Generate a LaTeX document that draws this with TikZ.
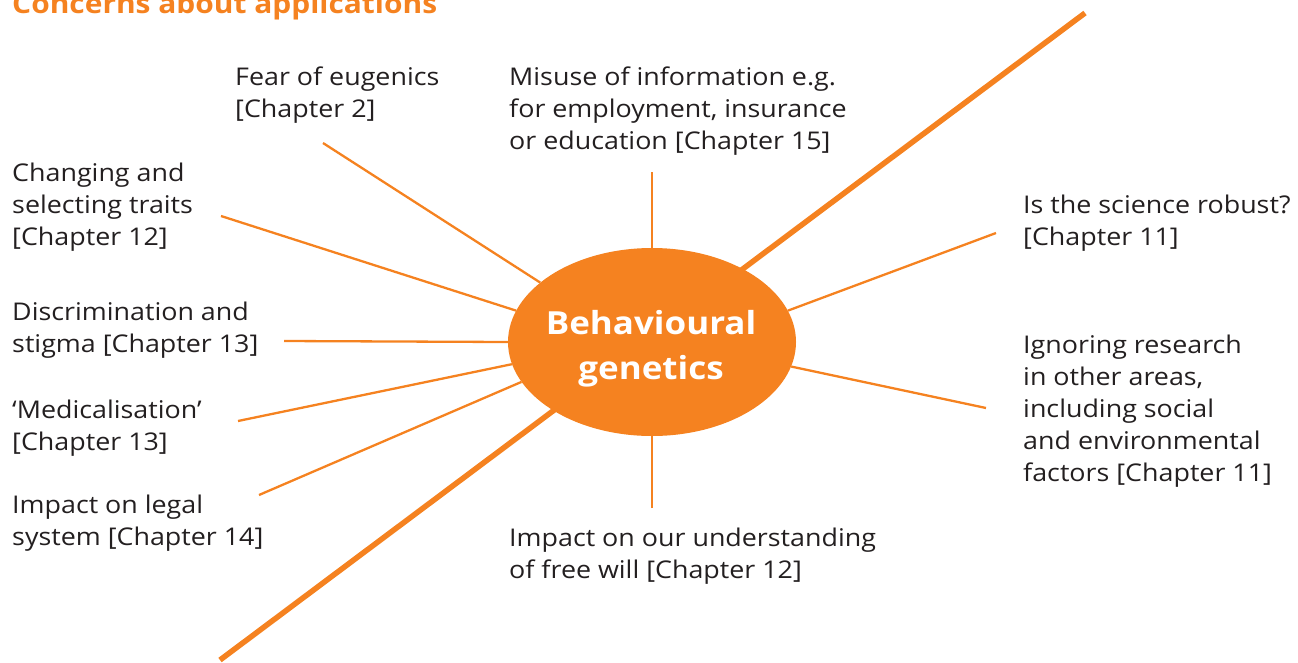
\documentclass[tikz,border=0pt]{standalone}
\usepackage{fontspec}
\setmainfont[FakeStretch=1.1]{Open Sans}
\usetikzlibrary{shapes.geometric}
\definecolor{bgorange}{HTML}{F58220}
\definecolor{txtdark}{HTML}{231F20}
\tikzset{
  spoke/.style={draw=bgorange, line width=2.3pt},
  bigline/.style={draw=bgorange, line width=5.5pt},
  lbl/.style={anchor=north west, inner sep=0pt, align=left, text=txtdark,
    font=\fontsize{24.4}{32}\selectfont},
}
\begin{document}
\begin{tikzpicture}[x=1pt,y=-1pt]
\useasboundingbox (0,0) rectangle (1298,662);
% title
\node[anchor=base west, inner sep=0pt, text=bgorange, font=\fontsize{27.2}{30}\selectfont\bfseries] (title) at (12,13) {Concerns about applications};
% central ellipse
\coordinate (lowend) at (220,660);
\coordinate (highend) at (1085,13);
\draw[bigline] (lowend) -- (highend);
\node[ellipse, fill=bgorange, minimum width=288pt, minimum height=188pt, inner sep=0pt] (bg) at (652,342) {};
% spoke ends
\coordinate (cfear) at (323,143);
\coordinate (cchange) at (221,216);
\coordinate (cdisc) at (284,341);
\coordinate (cmed) at (238,421);
\coordinate (clegal) at (259,495);
\coordinate (cmisuse) at (652,172);
\coordinate (crobust) at (996,233);
\coordinate (cignore) at (986,408);
\coordinate (cfree) at (652,508);
\draw[spoke] (cfear) -- (bg.152.2);
\draw[spoke] (cchange) -- (bg.167.8);
\draw[spoke] (cdisc) -- (bg.180);
\draw[spoke] (cmed) -- (bg.189);
\draw[spoke] (clegal) -- (bg.197.9);
\draw[spoke] (cmisuse) -- (bg.90);
\draw[spoke] (crobust) -- (bg.13.8);
\draw[spoke] (cignore) -- (bg.350.5);
\draw[spoke] (cfree) -- (bg.270);
% centre text
\node[anchor=north, inner sep=0pt, align=center, text=white, font=\fontsize{31.8}{45}\selectfont\bfseries] (core) at (651,302.5) {\strut Behavioural\\genetics};
% labels (north = first baseline - 22.4)
\node[lbl] (fear) at (235,62.6) {\strut Fear of eugenics\\{[Chapter 2]}};
\node[lbl] (misuse) at (509,62.6) {\strut Misuse of information e.g.\\for employment, insurance\\or education [Chapter 15]};
\node[lbl] (change) at (12,158.6) {\strut Changing and\\selecting traits\\{[Chapter 12]}};
\node[lbl] (disc) at (12,297.6) {\strut Discrimination and\\stigma [Chapter 13]};
\node[lbl] (med) at (12,395.6) {\strut `Medicalisation'\\{[Chapter 13]}};
\node[lbl] (legal) at (12,490.6) {\strut Impact on legal\\system [Chapter 14]};
\node[lbl] (robust) at (1023,190.6) {\strut Is the science robust?\\{[Chapter 11]}};
\node[lbl] (ignore) at (1023,330.6) {\strut Ignoring research\\in other areas,\\including social\\and environmental\\factors [Chapter 11]};
\node[lbl] (free) at (509,523.6) {\strut Impact on our understanding\\of free will [Chapter 12]};
\end{tikzpicture}
\end{document}
